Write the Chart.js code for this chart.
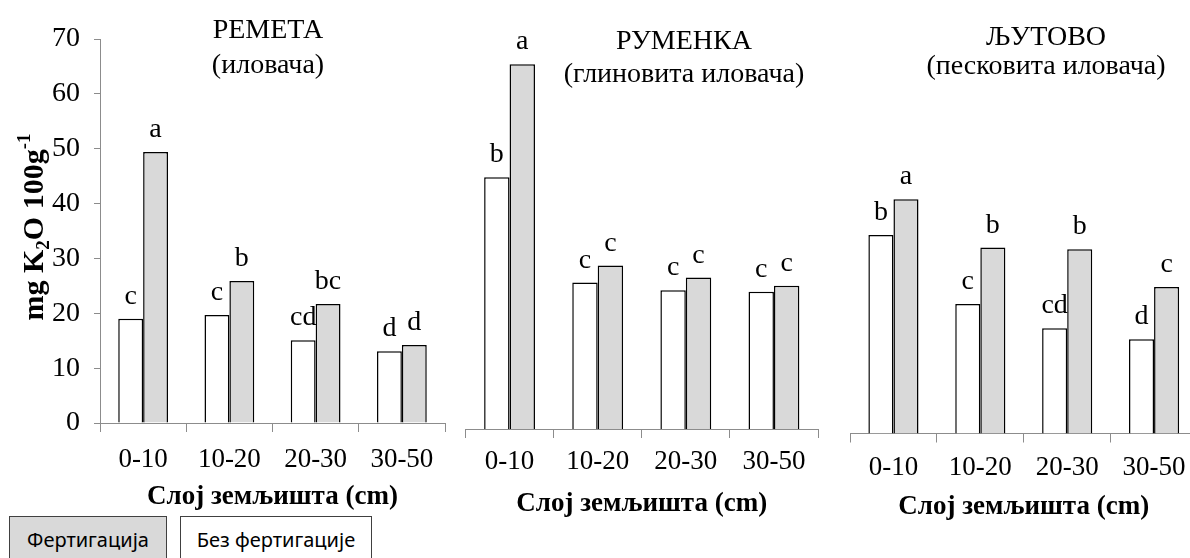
<!DOCTYPE html>
<html>
<head>
<meta charset="utf-8">
<script src="https://cdn.jsdelivr.net/npm/chart.js@4.4.0/dist/chart.umd.min.js"></script>
<style>
  html, body { margin: 0; padding: 0; background: #fff; }
  body { position: relative; width: 1190px; height: 558px; overflow: hidden; }
  canvas { position: absolute; top: 0; }
  .key {
    position: absolute; top: 516px; height: 60px; box-sizing: border-box;
    border: 1px solid #404040; font: 20px "Noto Sans", sans-serif; color: #000;
    text-align: center; padding-top: 9px;
  }
</style>
</head>
<body>
<canvas id="remeta" width="460" height="558" style="left:0"></canvas>
<canvas id="rumenka" width="400" height="558" style="left:440px"></canvas>
<canvas id="ljutovo" width="390" height="558" style="left:830px"></canvas>
<div class="key" style="left:9px; width:158px; background:#d9d9d9">Фертигација</div>
<div class="key" style="left:180px; width:192px; background:#fff">Без фертигације</div>

<script>
// soil layers (cm)
const layers = ['0-10', '10-20', '20-30', '30-50'];

// mg K2O / 100 g soil, without fertigation and with fertigation
const remetaNoFert = [19.0, 19.7, 15.1, 13.1];
const remetaFert = [49.4, 25.9, 21.7, 14.2];
const rumenkaNoFert = [45.9, 26.7, 25.3, 25.0];
const rumenkaFert = [66.5, 29.8, 27.6, 26.1];
const ljutovoNoFert = [36.2, 23.6, 19.2, 17.2];
const ljutovoFert = [42.7, 33.9, 33.6, 26.7];

// significance letters above the bars
const remetaNoFertSig = ['c', 'c', 'cd', 'd'];
const remetaFertSig = ['a', 'b', 'bc', 'd'];
const rumenkaNoFertSig = ['b', 'c', 'c', 'c'];
const rumenkaFertSig = ['a', 'c', 'c', 'c'];
const ljutovoNoFertSig = ['b', 'c', 'cd', 'd'];
const ljutovoFertSig = ['a', 'b', 'b', 'c'];

const yMax = 70;
const yStep = 10;

const SERIF = '"Liberation Serif", "Times New Roman", serif';
const AXIS_GREY = '#8c8c8c';

// letters drawn above each bar
const sigLetters = {
  id: 'sigLetters',
  afterDatasetsDraw(chart) {
    const ctx = chart.ctx;
    ctx.save();
    ctx.font = '28px ' + SERIF;
    ctx.fillStyle = '#000';
    ctx.textAlign = 'center';
    ctx.textBaseline = 'alphabetic';
    chart.data.datasets.forEach((ds, i) => {
      chart.getDatasetMeta(i).data.forEach((bar, j) => {
        ctx.fillText(ds.letters[j], bar.x, bar.y - 15);
      });
    });
    ctx.restore();
  }
};

// two-line site title
const siteTitle = {
  id: 'siteTitle',
  afterDraw(chart, args, opts) {
    const ctx = chart.ctx;
    ctx.save();
    ctx.font = '28px ' + SERIF;
    ctx.fillStyle = '#000';
    ctx.textAlign = 'center';
    ctx.textBaseline = 'middle';
    opts.lines.forEach((line, k) => ctx.fillText(line, opts.x, opts.y[k]));
    ctx.restore();
  }
};

// rotated y title with K2O subscript and g-1 superscript
const unitTitle = {
  id: 'unitTitle',
  afterDraw(chart, args, opts) {
    if (!opts.show) return;
    const ctx = chart.ctx;
    const parts = [
      { t: 'mg K', size: 30, dy: 0 },
      { t: '2', size: 19, dy: 6 },
      { t: 'O 100g', size: 30, dy: 0 },
      { t: '-1', size: 19, dy: -13 }
    ];
    ctx.save();
    ctx.translate(opts.x, opts.y);
    ctx.rotate(-Math.PI / 2);
    ctx.fillStyle = '#000';
    ctx.textBaseline = 'alphabetic';
    ctx.textAlign = 'left';
    let total = 0;
    parts.forEach(p => {
      ctx.font = 'bold ' + p.size + 'px ' + SERIF;
      p.w = ctx.measureText(p.t).width;
      total += p.w;
    });
    let x = -total / 2;
    parts.forEach(p => {
      ctx.font = 'bold ' + p.size + 'px ' + SERIF;
      ctx.fillText(p.t, x, 10 + p.dy);
      x += p.w;
    });
    ctx.restore();
  }
};

function panel(id, noFert, fert, noFertSig, fertSig, cfg) {
  return new Chart(document.getElementById(id), {
    type: 'bar',
    data: {
      labels: layers,
      datasets: [
        { label: 'Без фертигације', data: noFert, letters: noFertSig,
          backgroundColor: '#ffffff', borderColor: '#000', borderWidth: 1.5 },
        { label: 'Фертигација', data: fert, letters: fertSig,
          backgroundColor: '#d9d9d9', borderColor: '#000', borderWidth: 1.5 }
      ]
    },
    options: {
      responsive: false,
      animation: false,
      events: [],
      layout: { padding: cfg.padding },
      datasets: { bar: { categoryPercentage: 0.577, barPercentage: 1.0 } },
      scales: {
        x: {
          ticks: { color: '#000', font: { family: SERIF, size: 27, lineHeight: 1 },
                   padding: cfg.tickPad, maxRotation: 0, autoSkip: false },
          grid: { drawOnChartArea: false, tickLength: 9, color: AXIS_GREY, offset: true },
          border: { color: AXIS_GREY },
          title: { display: true, text: 'Слој земљишта (cm)', color: '#000',
                   font: { family: SERIF, size: 27, weight: 'bold', lineHeight: 1 },
                   padding: { top: 0, bottom: cfg.titlePad } },
          afterFit: s => { s.height = cfg.xHeight; }
        },
        y: {
          display: cfg.showY,
          min: 0, max: yMax,
          ticks: { stepSize: yStep, color: '#000', padding: 14,
                   font: { family: SERIF, size: 28, lineHeight: 1 } },
          grid: { drawOnChartArea: false, tickLength: 6, color: AXIS_GREY },
          border: { color: AXIS_GREY },
          afterFit: s => { s.width = cfg.showY ? 100 : 0; }
        }
      },
      plugins: {
        legend: { display: false },
        title: { display: false },
        tooltip: { enabled: false },
        siteTitle: cfg.title,
        unitTitle: { show: cfg.showY, x: 33, y: 227 }
      }
    },
    plugins: [sigLetters, siteTitle, unitTitle]
  });
}

panel('remeta', remetaNoFert, remetaFert, remetaNoFertSig, remetaFertSig, {
  padding: { left: 0, right: 15, top: 39, bottom: 0 },
  xHeight: 135, tickPad: 14, titlePad: 47, showY: true,
  title: { lines: ['РЕМЕТА', '(иловача)'], x: 268, y: [31, 66] }
});

panel('rumenka', rumenkaNoFert, rumenkaFert, rumenkaNoFertSig, rumenkaFertSig, {
  padding: { left: 25.5, right: 22, top: 45, bottom: 0 },
  xHeight: 129, tickPad: 10, titlePad: 40, showY: false,
  title: { lines: ['РУМЕНКА', '(глиновита иловача)'], x: 244, y: [42, 75] }
});

panel('ljutovo', ljutovoNoFert, ljutovoFert, ljutovoNoFertSig, ljutovoFertSig, {
  padding: { left: 20, right: 22.5, top: 49.5, bottom: 0 },
  xHeight: 124.5, tickPad: 12, titlePad: 37, showY: false,
  title: { lines: ['ЉУТОВО', '(песковита иловача)'], x: 216, y: [38, 67] }
});
</script>
</body>
</html>
